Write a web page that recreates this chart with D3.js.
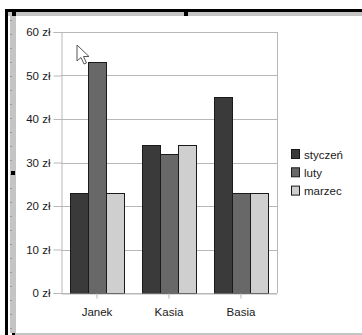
<!DOCTYPE html>
<html>
<head>
<meta charset="utf-8">
<script src="https://cdn.jsdelivr.net/npm/d3@7/dist/d3.min.js"></script>
<style>
  html, body { margin: 0; padding: 0; background: #fff; }
  svg { display: block; font-family: "Liberation Sans", Arial, sans-serif; }
</style>
</head>
<body>
<svg id="chart" width="362" height="335"></svg>
<script>
// Expenses per person, by month (zł)
const people = ["Janek", "Kasia", "Basia"];
const months = ["styczeń", "luty", "marzec"];
const styczen = [23, 34, 45];
const luty = [53, 32, 23];
const marzec = [23, 34, 23];
const yTicks = [0, 10, 20, 30, 40, 50, 60];

const seriesValues = [styczen, luty, marzec];
const colors = ["#3a3a3a", "#686868", "#cfcfcf"];

const svg = d3.select("#chart");

// Editor frame around the embedded chart
svg.append("rect").attr("x", 0).attr("y", 0).attr("width", 362).attr("height", 335).attr("fill", "#fff");
svg.append("rect").attr("x", 8).attr("y", 11).attr("width", 354).attr("height", 5).attr("fill", "#c4c4c4");
svg.append("rect").attr("x", 10).attr("y", 11).attr("width", 6).attr("height", 322).attr("fill", "#c4c4c4");
svg.append("rect").attr("x", 5).attr("y", 9).attr("width", 357).attr("height", 3).attr("fill", "#000");
svg.append("rect").attr("x", 5).attr("y", 9).attr("width", 3).attr("height", 326).attr("fill", "#000");
svg.append("rect").attr("x", 12).attr("y", 333).attr("width", 350).attr("height", 2).attr("fill", "#c4c4c4");
svg.append("rect").attr("x", 12).attr("y", 333).attr("width", 3).attr("height", 2).attr("fill", "#000");
// ruler ticks on the left band
d3.range(20, 333, 14).forEach(y => {
  svg.append("line").attr("x1", 10).attr("x2", 12).attr("y1", y + 0.5).attr("y2", y + 0.5)
    .attr("stroke", "#9a9a9a").attr("stroke-width", 1);
});
// selection handles
[[12, 12], [184, 12], [11, 171]].forEach(([x, y]) => {
  svg.append("rect").attr("x", x).attr("y", y).attr("width", 4).attr("height", 4).attr("fill", "#000");
});

const plot = { left: 61, right: 277, top: 32, bottom: 293 };

const x0 = d3.scaleBand().domain(people).range([plot.left, plot.right]).paddingInner(0).paddingOuter(0);
const x1 = d3.scaleBand().domain(months).range([0, x0.bandwidth()]).paddingInner(0).paddingOuter(0.5);
const y = d3.scaleLinear().domain([0, 60]).range([plot.bottom, plot.top]);

// horizontal grid
svg.append("g").selectAll("line").data(yTicks).join("line")
  .attr("x1", plot.left).attr("x2", plot.right)
  .attr("y1", d => Math.round(y(d)) + 0.5).attr("y2", d => Math.round(y(d)) + 0.5)
  .attr("stroke", "#b8b8b8").attr("stroke-width", 1);
// plot wall side
svg.append("line").attr("x1", plot.right + 0.5).attr("x2", plot.right + 0.5)
  .attr("y1", plot.top).attr("y2", plot.bottom).attr("stroke", "#b8b8b8");

// bars
const groups = svg.append("g").selectAll("g").data(people).join("g")
  .attr("transform", d => `translate(${x0(d)},0)`);
groups.selectAll("rect")
  .data((p, i) => months.map((m, j) => ({ month: m, value: seriesValues[j][i], color: colors[j] })))
  .join("rect")
  .attr("x", d => Math.round(x1(d.month)) + 0.5)
  .attr("width", x1.bandwidth())
  .attr("y", d => Math.round(y(d.value)) + 0.5)
  .attr("height", d => Math.round(y(0)) - Math.round(y(d.value)))
  .attr("fill", d => d.color)
  .attr("stroke", "#1a1a1a").attr("stroke-width", 1);

// y axis
const yAxis = svg.append("g").attr("transform", `translate(${plot.left + 0.5},0)`)
  .call(d3.axisLeft(y).tickValues(yTicks).tickSize(8).tickPadding(3).tickFormat(d => d + " zł"));
yAxis.select(".domain").attr("stroke", "#b8b8b8");
yAxis.selectAll(".tick line").attr("stroke", "#b8b8b8");
yAxis.selectAll("text").attr("font-size", 11.5).attr("fill", "#1a1a1a")
  .attr("font-family", "Liberation Sans, Arial, sans-serif");

// x axis
const xAxis = svg.append("g").attr("transform", `translate(0,${plot.bottom + 0.5})`)
  .call(d3.axisBottom(x0).tickSize(5).tickPadding(9).tickSizeOuter(0));
xAxis.select(".domain").attr("stroke", "#b8b8b8");
xAxis.selectAll(".tick line").attr("stroke", "#b8b8b8");
xAxis.selectAll("text").attr("font-size", 11.5).attr("fill", "#1a1a1a")
  .attr("font-family", "Liberation Sans, Arial, sans-serif");

// legend
const legend = svg.append("g").attr("transform", "translate(291,149)");
const items = legend.selectAll("g").data(months).join("g")
  .attr("transform", (d, i) => `translate(0,${i * 18.3})`);
items.append("rect").attr("x", 0.5).attr("y", 0.5).attr("width", 8).attr("height", 9)
  .attr("fill", (d, i) => colors[i]).attr("stroke", "#1a1a1a");
items.append("text").attr("x", 13).attr("y", 9.5).attr("font-size", 11.5).attr("fill", "#1a1a1a")
  .text(d => d);

// mouse pointer
svg.append("path")
  .attr("d", "M77,45 L77,61 L81,57.5 L84,64 L86.5,63 L83.5,56.5 L89,56.5 Z")
  .attr("fill", "#fff").attr("stroke", "#555").attr("stroke-width", 1).attr("stroke-linejoin", "round");
</script>
</body>
</html>
